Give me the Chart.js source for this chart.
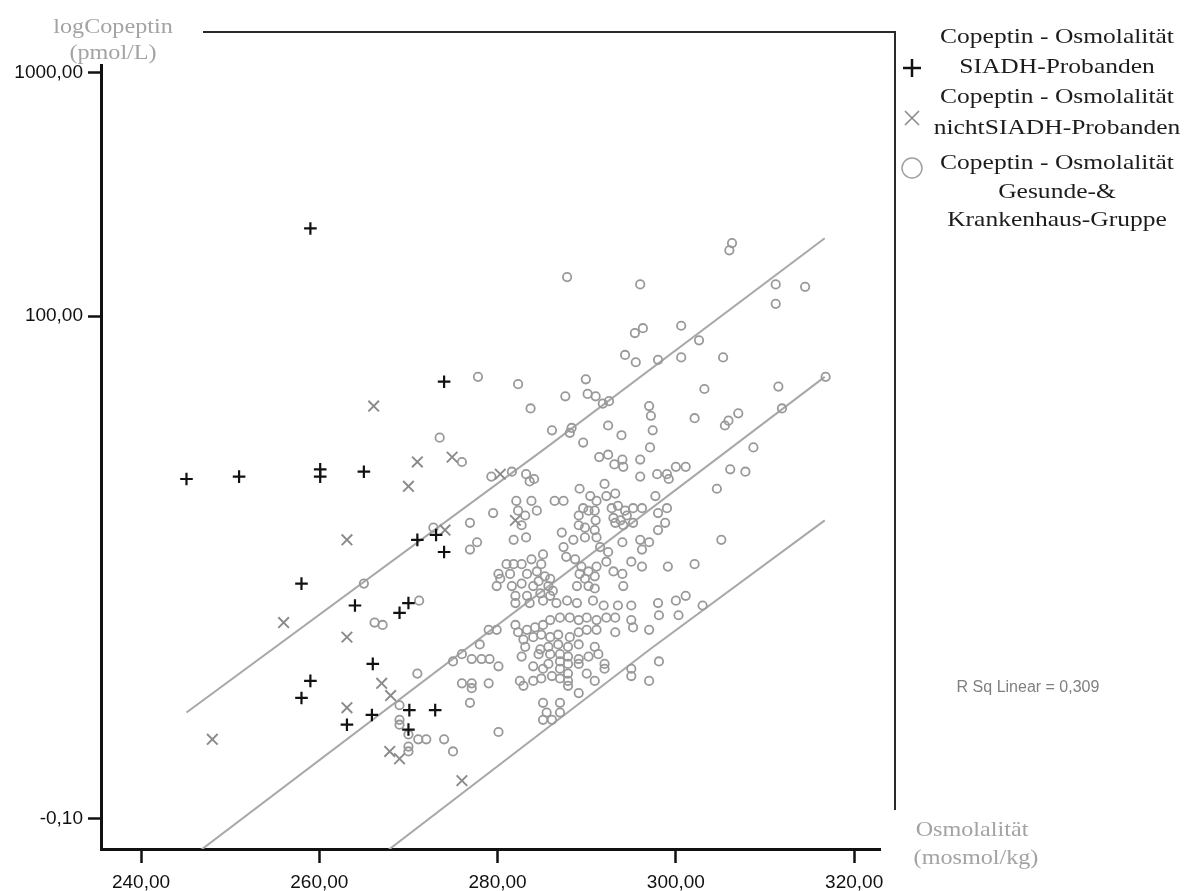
<!DOCTYPE html>
<html lang="de">
<head>
<meta charset="utf-8">
<title>Copeptin - Osmolalität</title>
<script src="https://cdn.jsdelivr.net/npm/chart.js@4.4.1/dist/chart.umd.min.js"></script>
<style>
  html, body { margin: 0; padding: 0; background: #fff; }
  #wrap { position: relative; width: 1196px; height: 891px; }
</style>
</head>
<body>
<div id="wrap"><canvas id="chart"></canvas></div>
<script>
// Osmolalität (mosmol/kg) gegen logCopeptin (log10 pmol/L), je Gruppe als [x, y]
const siadhPoints = [
  [259.0, 2.36], [274.0, 1.73], [245.1, 1.33], [251.0, 1.34], [260.1, 1.37], [260.1, 1.34],
  [265.0, 1.36], [273.1, 1.10], [271.0, 1.08], [274.0, 1.03], [258.0, 0.90], [264.0, 0.81],
  [270.0, 0.82], [269.0, 0.78], [266.0, 0.57], [259.0, 0.50], [258.0, 0.43], [270.1, 0.38],
  [273.0, 0.38], [265.9, 0.36], [263.1, 0.32], [270.0, 0.30]
]

const nichtSiadhPoints = [
  [266.1, 1.63], [271.0, 1.40], [274.9, 1.42], [270.0, 1.30], [274.1, 1.12], [263.1, 1.08],
  [256.0, 0.74], [263.1, 0.68], [267.0, 0.49], [268.0, 0.44], [263.1, 0.39], [267.9, 0.21],
  [269.0, 0.18], [248.0, 0.26], [276.0, 0.09], [280.3, 1.35], [282.0, 1.16]
]

const gesundePoints = [
  [273.5, 1.50], [276.0, 1.40], [277.8, 1.75],
  [272.8, 1.13], [276.9, 1.15], [276.9, 1.04], [265.0, 0.90], [271.2, 0.83], [266.2, 0.74],
  [267.1, 0.73], [271.0, 0.53], [275.0, 0.58], [276.0, 0.61], [269.0, 0.40], [269.0, 0.34],
  [269.0, 0.32], [270.0, 0.28], [271.1, 0.26], [272.0, 0.26], [270.0, 0.23], [270.0, 0.21],
  [274.0, 0.26], [275.0, 0.21], [276.0, 0.49], [276.9, 0.41],
  [306.3, 2.30], [306.0, 2.27], [287.8, 2.16], [296.0, 2.13], [311.2, 2.13], [314.5, 2.12],
  [311.2, 2.05], [296.3, 1.95], [295.4, 1.93], [300.6, 1.96], [302.6, 1.90], [294.3, 1.84],
  [295.5, 1.81], [298.0, 1.82], [300.6, 1.83], [305.3, 1.83], [282.3, 1.72], [289.9, 1.74],
  [287.6, 1.67], [290.1, 1.68], [291.0, 1.67], [291.8, 1.64], [292.5, 1.65], [283.7, 1.62],
  [303.2, 1.70], [311.5, 1.71], [316.8, 1.75], [311.9, 1.62], [297.0, 1.63], [297.2, 1.59],
  [297.4, 1.53], [302.1, 1.58], [307.0, 1.60], [305.9, 1.57], [305.5, 1.55], [286.1, 1.53],
  [288.3, 1.54], [288.1, 1.52], [292.4, 1.55], [293.9, 1.51], [289.6, 1.48], [297.1, 1.46],
  [308.7, 1.46],
  [291.4, 1.42], [292.4, 1.43], [293.1, 1.39], [294.0, 1.41], [294.1, 1.38], [296.0, 1.41],
  [296.0, 1.34], [279.3, 1.34], [281.6, 1.36], [283.2, 1.35], [283.6, 1.32], [284.1, 1.33],
  [289.2, 1.29], [292.0, 1.31], [293.2, 1.27], [282.1, 1.24], [283.8, 1.24], [286.4, 1.24],
  [287.4, 1.24], [279.5, 1.19], [282.3, 1.20], [284.4, 1.20], [283.1, 1.18], [290.4, 1.26],
  [291.1, 1.24], [292.2, 1.26], [289.6, 1.21], [290.2, 1.20], [290.9, 1.20], [292.8, 1.21],
  [293.5, 1.22], [294.3, 1.20], [295.2, 1.21], [296.2, 1.21], [289.1, 1.18], [291.0, 1.16],
  [293.0, 1.17], [293.8, 1.16], [294.5, 1.18], [295.2, 1.15], [282.7, 1.14], [289.1, 1.14],
  [289.8, 1.13], [293.2, 1.15], [294.1, 1.14], [290.9, 1.12], [287.2, 1.11], [277.7, 1.07],
  [281.8, 1.08], [283.2, 1.09], [287.4, 1.05], [288.5, 1.08], [289.8, 1.09], [291.1, 1.09],
  [294.0, 1.07], [296.0, 1.08], [296.2, 1.04], [291.5, 1.05], [292.4, 1.03], [287.7, 1.01],
  [288.7, 1.00], [285.1, 1.02], [291.1, 0.97], [292.2, 0.99], [295.0, 0.99], [296.2, 0.97],
  [280.1, 0.94], [281.0, 0.98], [281.8, 0.98], [282.7, 0.98], [283.8, 1.00], [284.9, 0.98],
  [280.3, 0.92], [281.4, 0.94], [283.3, 0.94], [284.4, 0.95], [285.3, 0.93], [285.9, 0.92],
  [284.6, 0.91], [279.9, 0.89], [281.6, 0.89], [282.7, 0.90], [284.0, 0.89], [285.7, 0.89],
  [286.2, 0.87], [289.4, 0.97], [289.2, 0.94], [290.2, 0.95], [289.8, 0.92], [290.9, 0.93],
  [293.0, 0.95], [294.0, 0.94], [294.1, 0.89], [288.9, 0.89], [290.2, 0.89], [290.9, 0.88],
  [282.0, 0.85], [283.3, 0.85], [284.8, 0.86], [285.9, 0.85], [282.0, 0.82], [283.6, 0.82],
  [285.1, 0.83], [286.6, 0.82], [287.8, 0.83], [288.9, 0.82], [290.7, 0.83], [291.9, 0.81],
  [293.5, 0.81], [295.0, 0.81],
  [306.1, 1.37], [307.8, 1.36], [297.9, 1.35], [299.0, 1.35], [299.2, 1.33], [300.0, 1.38],
  [301.1, 1.38], [304.6, 1.29], [297.7, 1.26], [299.0, 1.21], [298.0, 1.19], [298.8, 1.15],
  [298.0, 1.12], [297.0, 1.07], [305.1, 1.08], [299.1, 0.97], [302.1, 0.98], [298.0, 0.82],
  [300.0, 0.83], [301.1, 0.85], [303.0, 0.81], [298.1, 0.77], [300.3, 0.77], [298.1, 0.58],
  [279.0, 0.71], [279.9, 0.71], [278.0, 0.65], [282.0, 0.73], [282.3, 0.70], [283.3, 0.71],
  [284.2, 0.72], [285.1, 0.73], [285.9, 0.75], [287.0, 0.76], [288.1, 0.76], [289.1, 0.75],
  [290.0, 0.76], [291.1, 0.75], [292.2, 0.76], [293.2, 0.76], [295.0, 0.75], [295.2, 0.72],
  [297.0, 0.71], [282.9, 0.67], [284.0, 0.68], [284.9, 0.69], [285.9, 0.68], [286.8, 0.69],
  [288.1, 0.68], [289.1, 0.70], [290.0, 0.71], [291.1, 0.71], [293.2, 0.70], [283.1, 0.64],
  [284.8, 0.63], [285.7, 0.64], [286.8, 0.65], [287.9, 0.64], [289.1, 0.65], [290.9, 0.64],
  [277.1, 0.59], [278.2, 0.59], [279.1, 0.59], [282.7, 0.60], [284.6, 0.61], [285.9, 0.61],
  [287.0, 0.61], [287.9, 0.60], [289.1, 0.59], [290.2, 0.60], [291.3, 0.61], [280.1, 0.56],
  [284.0, 0.56], [285.7, 0.57], [287.0, 0.58], [287.9, 0.57], [289.1, 0.57], [292.0, 0.57],
  [292.0, 0.55], [285.1, 0.55], [287.0, 0.55], [287.9, 0.53], [290.0, 0.53], [295.0, 0.55],
  [295.0, 0.52], [297.0, 0.50], [277.1, 0.49], [277.1, 0.47], [279.0, 0.49], [282.5, 0.50],
  [282.9, 0.48], [284.0, 0.50], [284.9, 0.51], [286.1, 0.52], [287.0, 0.51], [287.9, 0.50],
  [287.9, 0.48], [290.9, 0.50], [289.1, 0.45], [285.1, 0.41], [287.0, 0.41], [285.5, 0.37],
  [287.0, 0.37], [285.1, 0.34], [286.1, 0.34], [280.1, 0.29]
]

// Regressionsgerade und 95%-Vorhersagegrenzen
const fitLine = [[245.1, -0.24], [316.7, 1.75]]
const upperBand = [[245.1, 0.37], [285.5, 1.46], [316.7, 2.32]]
const lowerBand = [[266.5, -0.23], [297.1, 0.63], [316.7, 1.16]]

const xTicks = [240, 260, 280, 300, 320]
const xTickLabels = ["240,00", "260,00", "280,00", "300,00", "320,00"]
const yTicks = [-0.065, 2, 3]
const yTickLabels = ["-0,10", "100,00", "1000,00"]

const legendLines = [
  "Copeptin - Osmolalität", "SIADH-Probanden",
  "Copeptin - Osmolalität", "nichtSIADH-Probanden",
  "Copeptin - Osmolalität", "Gesunde-&", "Krankenhaus-Gruppe"
]
const rSquared = "R Sq Linear = 0,309"

const toXY = (arr) => arr.map(([x, y]) => ({ x, y }))

const SERIF = "'Liberation Serif', 'Times New Roman', serif"
const SANS = "'Liberation Sans', Arial, sans-serif"

// breit gezogener Serifentext
function wideText(ctx, text, x, y, sx) {
  ctx.save()
  ctx.translate(x, y)
  ctx.scale(sx, 1)
  ctx.fillText(text, 0, 0)
  ctx.restore()
}

const framePlugin = {
  id: "frame",
  afterDraw(chart) {
    const ctx = chart.ctx
    ctx.save()

    // oberer und rechter Rahmen
    ctx.strokeStyle = "#2a2a2a"
    ctx.lineWidth = 2
    ctx.beginPath()
    ctx.moveTo(203, 32)
    ctx.lineTo(895, 32)
    ctx.lineTo(895, 810)
    ctx.stroke()

    ctx.textAlign = "center"
    ctx.textBaseline = "middle"

    // Achsentitel
    ctx.fillStyle = "#a3a3a3"
    ctx.font = `21px ${SERIF}`
    wideText(ctx, "logCopeptin", 113, 27, 1.15)
    wideText(ctx, "(pmol/L)", 113, 53, 1.15)
    wideText(ctx, "Osmolalität", 972, 830, 1.15)
    wideText(ctx, "(mosmol/kg)", 976, 858, 1.15)

    // Legende
    ctx.fillStyle = "#1c1c1c"
    ctx.font = `22px ${SERIF}`
    const lineY = [37, 67, 97, 128, 163, 192, 220]
    legendLines.forEach((t, i) => wideText(ctx, t, 1057, lineY[i], 1.16))

    ctx.strokeStyle = "#111"
    ctx.lineWidth = 2.5
    ctx.beginPath()
    ctx.moveTo(903, 68); ctx.lineTo(921, 68)
    ctx.moveTo(912, 59); ctx.lineTo(912, 77)
    ctx.stroke()

    ctx.strokeStyle = "#8c8c8c"
    ctx.lineWidth = 1.6
    ctx.beginPath()
    ctx.moveTo(905, 111); ctx.lineTo(919, 125)
    ctx.moveTo(919, 111); ctx.lineTo(905, 125)
    ctx.stroke()

    ctx.strokeStyle = "#a0a0a0"
    ctx.lineWidth = 1.5
    ctx.beginPath()
    ctx.arc(912, 168, 10, 0, Math.PI * 2)
    ctx.stroke()

    ctx.fillStyle = "#7f7f7f"
    ctx.font = `16px ${SANS}`
    ctx.fillText(rSquared, 1028, 688)

    ctx.restore()
  }
}

const axisGrid = { drawOnChartArea: false, drawTicks: true, tickWidth: 2.5, tickColor: "#111" }
const axisBorder = { display: true, color: "#111", width: 3 }

new Chart(document.getElementById("chart"), {
  type: "scatter",
  data: {
    datasets: [
      {
        label: "Copeptin - Osmolalität SIADH-Probanden",
        data: toXY(siadhPoints),
        pointStyle: "cross",
        pointRadius: 6.3,
        borderWidth: 2.2,
        borderColor: "#111",
        order: 1
      },
      {
        label: "Copeptin - Osmolalität nichtSIADH-Probanden",
        data: toXY(nichtSiadhPoints),
        pointStyle: "crossRot",
        pointRadius: 7.5,
        borderWidth: 1.9,
        borderColor: "#8a8a8a",
        order: 2
      },
      {
        label: "Copeptin - Osmolalität Gesunde-& Krankenhaus-Gruppe",
        data: toXY(gesundePoints),
        pointStyle: "circle",
        pointRadius: 4.2,
        borderWidth: 1.8,
        borderColor: "#999",
        backgroundColor: "rgba(0,0,0,0)",
        order: 3
      },
      ...[fitLine, upperBand, lowerBand].map((line) => ({
        data: toXY(line),
        showLine: true,
        pointRadius: 0,
        borderColor: "#a8a8a8",
        borderWidth: 2,
        tension: 0,
        order: 10
      }))
    ]
  },
  options: {
    responsive: true,
    maintainAspectRatio: false,
    animation: false,
    layout: { padding: { top: 65, right: 316, left: 0, bottom: 0 } },
    plugins: {
      legend: { display: false },
      tooltip: { enabled: false }
    },
    scales: {
      x: {
        type: "linear",
        min: 235.51,
        max: 322.9,
        afterFit: (s) => { s.height = 42 },
        afterBuildTicks: (s) => { s.ticks = xTicks.map((v) => ({ value: v })) },
        ticks: {
          color: "#111",
          padding: 8,
          font: { family: SANS, size: 19 },
          callback: (v) => xTickLabels[xTicks.indexOf(v)]
        },
        grid: { ...axisGrid, tickLength: 14 },
        border: axisBorder
      },
      y: {
        type: "linear",
        min: -0.191,
        max: 3.032,
        afterFit: (s) => { s.width = 101 },
        afterBuildTicks: (s) => { s.ticks = yTicks.map((v) => ({ value: v })) },
        ticks: {
          color: "#111",
          padding: 5,
          font: { family: SANS, size: 19 },
          callback: (v) => yTickLabels[yTicks.indexOf(v)]
        },
        grid: { ...axisGrid, tickLength: 13 },
        border: axisBorder
      }
    }
  },
  plugins: [framePlugin]
})
</script>
</body>
</html>
